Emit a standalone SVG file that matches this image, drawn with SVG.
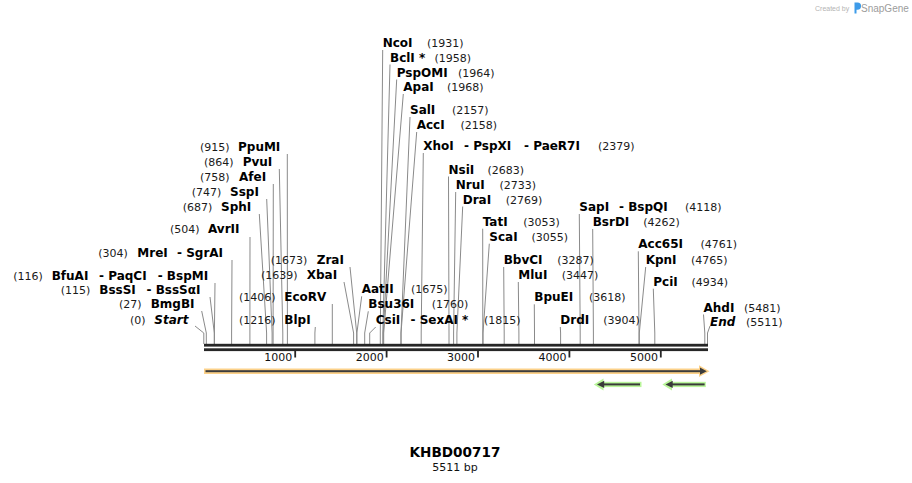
<svg xmlns="http://www.w3.org/2000/svg" width="912" height="483" viewBox="0 0 912 483">
<style>
.n{font-family:"DejaVu Sans",Verdana,sans-serif;font-size:12px;font-weight:bold;fill:#000}
.i{font-style:italic}
.p{font-family:"DejaVu Sans",Verdana,sans-serif;font-size:11px;fill:#1a1a1a}
.ln{stroke:#8a8a8a;stroke-width:1;fill:none}
.tk{font-family:"DejaVu Sans",Verdana,sans-serif;font-size:11px;fill:#111;text-anchor:end}
.ax{fill:#262626}
</style>
<rect width="912" height="483" fill="#fff"/>
<g id="credit">
<text x="815" y="11" style="font-family:'Liberation Sans',Arial,sans-serif;font-size:7px;fill:#b4b4b4">Created by</text>
<path d="M854.5 2.5h3a3.6 3.6 0 0 1 0 7.2h-1v3.8h-2z" fill="#3d9be9"/>
<text x="861" y="12" style="font-family:'Liberation Sans',Arial,sans-serif;font-size:10px;fill:#9c9c9c">SnapGene</text>
</g>
<g id="connectors" class="ln">
<polyline points="287.3,154 287.4,333 287.4,344"/>
<polyline points="279.3,169 282.8,333 282.8,344"/>
<polyline points="273.3,184 273.1,333 273.1,344"/>
<polyline points="266.7,199 272.1,333 272.1,344"/>
<polyline points="259.3,214 266.6,333 266.6,344"/>
<polyline points="250,237 249.9,333 249.9,344"/>
<polyline points="232,260 231.6,333 231.6,344"/>
<polyline points="215,283 214.4,333 214.4,344"/>
<polyline points="210,297 214.3,333 214.3,344"/>
<polyline points="201.7,311 206.3,333 206.3,344"/>
<polyline points="195,326 203.8,333 203.8,344"/>
<polyline points="350,267 356.7,333 356.7,344"/>
<polyline points="344,282 353.6,333 353.6,344"/>
<polyline points="332.3,304 332.3,333 332.3,344"/>
<polyline points="315.3,327 314.9,333 314.9,344"/>
<polyline points="382.7,50 380.3,333 380.3,344"/>
<polyline points="390,64.5 382.8,333 382.8,344"/>
<polyline points="396.7,79.5 383.3,333 383.3,344"/>
<polyline points="403.3,94 383.7,333 383.7,344"/>
<polyline points="410,117 401,333 401,344"/>
<polyline points="416.7,132 401,333 401,344"/>
<polyline points="423.3,153 421.2,333 421.2,344"/>
<polyline points="448.5,176.5 449,333 449,344"/>
<polyline points="455.7,192 453.6,333 453.6,344"/>
<polyline points="462.7,206.5 456.9,333 456.9,344"/>
<polyline points="482.7,228.7 482.8,333 482.8,344"/>
<polyline points="489.3,243.7 483,333 483,344"/>
<polyline points="503.7,267 504.2,333 504.2,344"/>
<polyline points="518.3,282 518.9,333 518.9,344"/>
<polyline points="534.3,304.3 534.5,333 534.5,344"/>
<polyline points="560.3,327 560.6,333 560.6,344"/>
<polyline points="579.3,214 580.2,333 580.2,344"/>
<polyline points="592.7,229 593.4,333 593.4,344"/>
<polyline points="638.3,251.3 639,333 639,344"/>
<polyline points="645.7,267 639.3,333 639.3,344"/>
<polyline points="653.3,288.7 654.8,333 654.8,344"/>
<polyline points="703.5,314.5 704.8,333 704.8,344"/>
<polyline points="710,326 707.5,333 707.5,344"/>
<polyline points="361.7,296.3 356.9,333 356.9,344"/>
<polyline points="368.3,311.3 364.7,333 364.7,344"/>
<polyline points="375.7,327 369.7,333 369.7,344"/>
</g>
<g id="axis">
<rect class="ax" x="204" y="343.8" width="504" height="2.8"/>
<rect class="ax" x="204" y="348.3" width="504" height="2.8"/>
<rect class="ax" x="294.3" y="351" width="1.8" height="6.5"/>
<rect class="ax" x="385.7" y="351" width="1.8" height="6.5"/>
<rect class="ax" x="477.1" y="351" width="1.8" height="6.5"/>
<rect class="ax" x="568.5" y="351" width="1.8" height="6.5"/>
<rect class="ax" x="659.9" y="351" width="1.8" height="6.5"/>
<text class="tk" x="292.3" y="360.5">1000</text>
<text class="tk" x="383.7" y="360.5">2000</text>
<text class="tk" x="475.1" y="360.5">3000</text>
<text class="tk" x="566.5" y="360.5">4000</text>
<text class="tk" x="657.9" y="360.5">5000</text>
</g>
<g id="feature-orange">
<rect x="204" y="368.5" width="497" height="5.5" fill="#fcd189"/>
<polygon points="699,365.3 709.5,371.2 699,377.1" fill="#fcd189"/>
<rect x="205.5" y="370.2" width="495" height="2" fill="#3c3c3c"/>
<polygon points="700,367.6 706.8,371.2 700,374.8" fill="#3c3c3c"/>
</g>
<g id="feature-green-1">
<rect x="602" y="381.8" width="39.5" height="5.3" fill="#b9f59a"/>
<polygon points="603.5,378.4 593.8,384.4 603.5,390.4" fill="#b9f59a"/>
<rect x="603.5" y="383.4" width="36.5" height="2" fill="#3a3a3a"/>
<polygon points="604.2,380.8 597,384.4 604.2,388" fill="#3a3a3a"/>
</g>
<g id="feature-green-2">
<rect x="670.5" y="381.8" width="35.3" height="5.3" fill="#b9f59a"/>
<polygon points="672,378.4 662.3,384.4 672,390.4" fill="#b9f59a"/>
<rect x="672" y="383.4" width="32.6" height="2" fill="#3a3a3a"/>
<polygon points="672.7,380.8 665.5,384.4 672.7,388" fill="#3a3a3a"/>
</g>
<g id="site-PpuMI"><text class="p" x="200" y="150.5">(915)</text><text class="n" x="238" y="150.5">PpuMI</text></g>
<g id="site-PvuI"><text class="p" x="204" y="165.5">(864)</text><text class="n" x="242.7" y="165.5">PvuI</text></g>
<g id="site-AfeI"><text class="p" x="200" y="180.5">(758)</text><text class="n" x="239" y="180.5">AfeI</text></g>
<g id="site-SspI"><text class="p" x="191.7" y="195.5">(747)</text><text class="n" x="230" y="195.5">SspI</text></g>
<g id="site-SphI"><text class="p" x="182.7" y="210.5">(687)</text><text class="n" x="221" y="210.5">SphI</text></g>
<g id="site-AvrII"><text class="p" x="170" y="233.3">(504)</text><text class="n" x="208" y="233.3">AvrII</text></g>
<g id="site-MreI"><text class="p" x="98.3" y="256.7">(304)</text><text class="n" x="137.3" y="256.7">MreI</text><text class="n" x="177" y="256.7">- SgrAI</text></g>
<g id="site-BfuAI"><text class="p" x="13.3" y="279.7">(116)</text><text class="n" x="51.7" y="279.7">BfuAI</text><text class="n" x="99" y="279.7">- PaqCI</text><text class="n" x="157.7" y="279.7">- BspMI</text></g>
<g id="site-BssSI"><text class="p" x="60.7" y="294">(115)</text><text class="n" x="99.3" y="294">BssSI</text><text class="n" x="146.5" y="294">- BssSαI</text></g>
<g id="site-BmgBI"><text class="p" x="119" y="308">(27)</text><text class="n" x="150.7" y="308">BmgBI</text></g>
<g id="site-Start"><text class="p" x="130" y="324">(0)</text><text class="n i" x="154.3" y="324">Start</text></g>
<g id="site-ZraI"><text class="p" x="270.7" y="264">(1673)</text><text class="n" x="316.7" y="264">ZraI</text></g>
<g id="site-XbaI"><text class="p" x="261" y="279">(1639)</text><text class="n" x="306.7" y="279">XbaI</text></g>
<g id="site-EcoRV"><text class="p" x="239" y="300.7">(1406)</text><text class="n" x="284.3" y="300.7">EcoRV</text></g>
<g id="site-BlpI"><text class="p" x="239" y="324">(1216)</text><text class="n" x="284.3" y="324">BlpI</text></g>
<g id="site-NcoI"><text class="n" x="382.7" y="47">NcoI</text><text class="p" x="427" y="47">(1931)</text></g>
<g id="site-BclI"><text class="n" x="390" y="61.5">BclI *</text><text class="p" x="434.5" y="61.5">(1958)</text></g>
<g id="site-PspOMI"><text class="n" x="396.7" y="76.5">PspOMI</text><text class="p" x="458" y="76.5">(1964)</text></g>
<g id="site-ApaI"><text class="n" x="403.3" y="91">ApaI</text><text class="p" x="447" y="91">(1968)</text></g>
<g id="site-SalI"><text class="n" x="410" y="114">SalI</text><text class="p" x="452" y="114">(2157)</text></g>
<g id="site-AccI"><text class="n" x="416.7" y="129">AccI</text><text class="p" x="460.5" y="129">(2158)</text></g>
<g id="site-XhoI"><text class="n" x="423.3" y="150">XhoI</text><text class="n" x="464" y="150">- PspXI</text><text class="n" x="524" y="150">- PaeR7I</text><text class="p" x="598" y="150">(2379)</text></g>
<g id="site-NsiI"><text class="n" x="448.5" y="173.5">NsiI</text><text class="p" x="487.5" y="173.5">(2683)</text></g>
<g id="site-NruI"><text class="n" x="455.7" y="189">NruI</text><text class="p" x="499.5" y="189">(2733)</text></g>
<g id="site-DraI"><text class="n" x="462.7" y="203.5">DraI</text><text class="p" x="505.7" y="203.5">(2769)</text></g>
<g id="site-TatI"><text class="n" x="482.7" y="225.7">TatI</text><text class="p" x="523.3" y="225.7">(3053)</text></g>
<g id="site-ScaI"><text class="n" x="489.3" y="240.7">ScaI</text><text class="p" x="531.5" y="240.7">(3055)</text></g>
<g id="site-BbvCI"><text class="n" x="503.7" y="264">BbvCI</text><text class="p" x="557.3" y="264">(3287)</text></g>
<g id="site-MluI"><text class="n" x="518.3" y="279">MluI</text><text class="p" x="561.7" y="279">(3447)</text></g>
<g id="site-BpuEI"><text class="n" x="534.3" y="301.3">BpuEI</text><text class="p" x="589" y="301.3">(3618)</text></g>
<g id="site-DrdI"><text class="n" x="560.3" y="324">DrdI</text><text class="p" x="603.3" y="324">(3904)</text></g>
<g id="site-SapI"><text class="n" x="579.3" y="211">SapI</text><text class="n" x="619" y="211">- BspQI</text><text class="p" x="685" y="211">(4118)</text></g>
<g id="site-BsrDI"><text class="n" x="592.7" y="226">BsrDI</text><text class="p" x="643.3" y="226">(4262)</text></g>
<g id="site-Acc65I"><text class="n" x="638.3" y="248.3">Acc65I</text><text class="p" x="700.5" y="248.3">(4761)</text></g>
<g id="site-KpnI"><text class="n" x="645.7" y="264">KpnI</text><text class="p" x="691" y="264">(4765)</text></g>
<g id="site-PciI"><text class="n" x="653.3" y="285.7">PciI</text><text class="p" x="691.5" y="285.7">(4934)</text></g>
<g id="site-AhdI"><text class="n" x="703.5" y="311.5">AhdI</text><text class="p" x="744" y="311.5">(5481)</text></g>
<g id="site-End"><text class="n i" x="710" y="326">End</text><text class="p" x="746" y="326">(5511)</text></g>
<g id="site-AatII"><text class="n" x="361.7" y="293.3">AatII</text><text class="p" x="411" y="293.3">(1675)</text></g>
<g id="site-Bsu36I"><text class="n" x="368.3" y="308.3">Bsu36I</text><text class="p" x="431.7" y="308.3">(1760)</text></g>
<g id="site-CsiI"><text class="n" x="375.7" y="324">CsiI</text><text class="n" x="410.5" y="324">- SexAI *</text><text class="p" x="484" y="324">(1815)</text></g>
<g id="title">
<text x="455" y="457" text-anchor="middle" style="font-family:'DejaVu Sans',Verdana,sans-serif;font-size:13.6px;font-weight:bold;fill:#000">KHBD00717</text>
<text x="455" y="470.5" text-anchor="middle" style="font-family:'DejaVu Sans',Verdana,sans-serif;font-size:11px;fill:#111">5511 bp</text>
</g>
</svg>
